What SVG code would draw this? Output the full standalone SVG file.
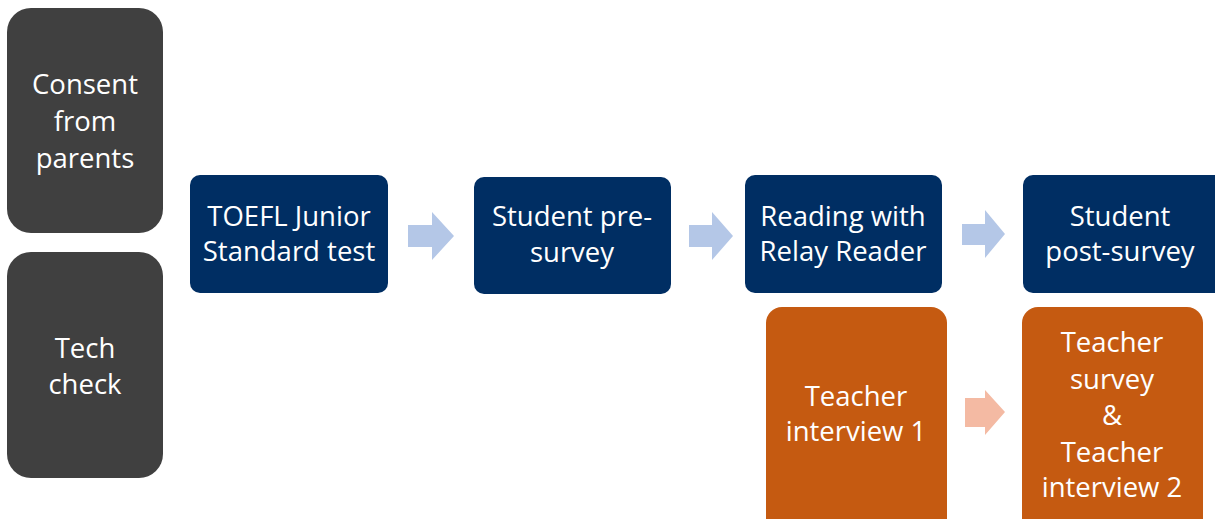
<svg xmlns="http://www.w3.org/2000/svg" width="1215" height="519" viewBox="0 0 1215 519">
  <style>
    .grey { fill: #404040; }
    .navy { fill: #002E63; }
    .orange { fill: #C55A11; }
    .lbl { font-family: "Open Sans", "Liberation Sans", sans-serif; font-size: 27.5px; fill: #ffffff; text-anchor: middle; }
    .arrow-blue { fill: #B4C7E7; }
    .arrow-pink { fill: #F4BAA3; }
  </style>
  <rect width="1215" height="519" fill="#ffffff"/>

  <g id="consent">
    <rect class="grey" x="7" y="8" width="156" height="225" rx="24"/>
    <text class="lbl" x="85" y="94">Consent</text>
    <text class="lbl" x="85" y="131">from</text>
    <text class="lbl" x="85" y="168">parents</text>
  </g>
  <g id="tech-check">
    <rect class="grey" x="7" y="252" width="156" height="226" rx="24"/>
    <text class="lbl" x="85" y="358">Tech</text>
    <text class="lbl" x="85" y="394">check</text>
  </g>

  <g id="toefl">
    <rect class="navy" x="190" y="175" width="198" height="118" rx="10"/>
    <text class="lbl" x="289" y="226">TOEFL Junior</text>
    <text class="lbl" x="289" y="261">Standard test</text>
  </g>
  <g id="pre-survey">
    <rect class="navy" x="474" y="177" width="197" height="117" rx="10"/>
    <text class="lbl" x="572" y="226">Student pre-</text>
    <text class="lbl" x="572" y="262">survey</text>
  </g>
  <g id="reading">
    <rect class="navy" x="745" y="175" width="197" height="118" rx="10"/>
    <text class="lbl" x="843" y="226">Reading with</text>
    <text class="lbl" x="843" y="261">Relay Reader</text>
  </g>
  <g id="post-survey">
    <rect class="navy" x="1023" y="175" width="205" height="118" rx="10"/>
    <text class="lbl" x="1120" y="226">Student</text>
    <text class="lbl" x="1120" y="261">post-survey</text>
  </g>

  <g id="interview-1">
    <rect class="orange" x="766" y="307" width="181" height="230" rx="16"/>
    <text class="lbl" x="856" y="406">Teacher</text>
    <text class="lbl" x="856" y="441">interview 1</text>
  </g>
  <g id="survey-interview-2">
    <rect class="orange" x="1022" y="307" width="181" height="230" rx="16"/>
    <text class="lbl" x="1112" y="352">Teacher</text>
    <text class="lbl" x="1112" y="389">survey</text>
    <text class="lbl" x="1112" y="425">&amp;</text>
    <text class="lbl" x="1112" y="462">Teacher</text>
    <text class="lbl" x="1112" y="497">interview 2</text>
  </g>

  <g id="connectors">
    <polygon class="arrow-blue" points="408,225 432,225 432,212 454,236 432,260 432,247 408,247"/>
    <polygon class="arrow-blue" points="689,225 712,225 712,212 733,236 712,260 712,247 689,247"/>
    <polygon class="arrow-blue" points="962,224 985,224 985,210 1005,234 985,258 985,245 962,245"/>
    <polygon class="arrow-pink" points="965,398 985,398 985,390 1005,412 985,435 985,427 965,427"/>
  </g>
</svg>
